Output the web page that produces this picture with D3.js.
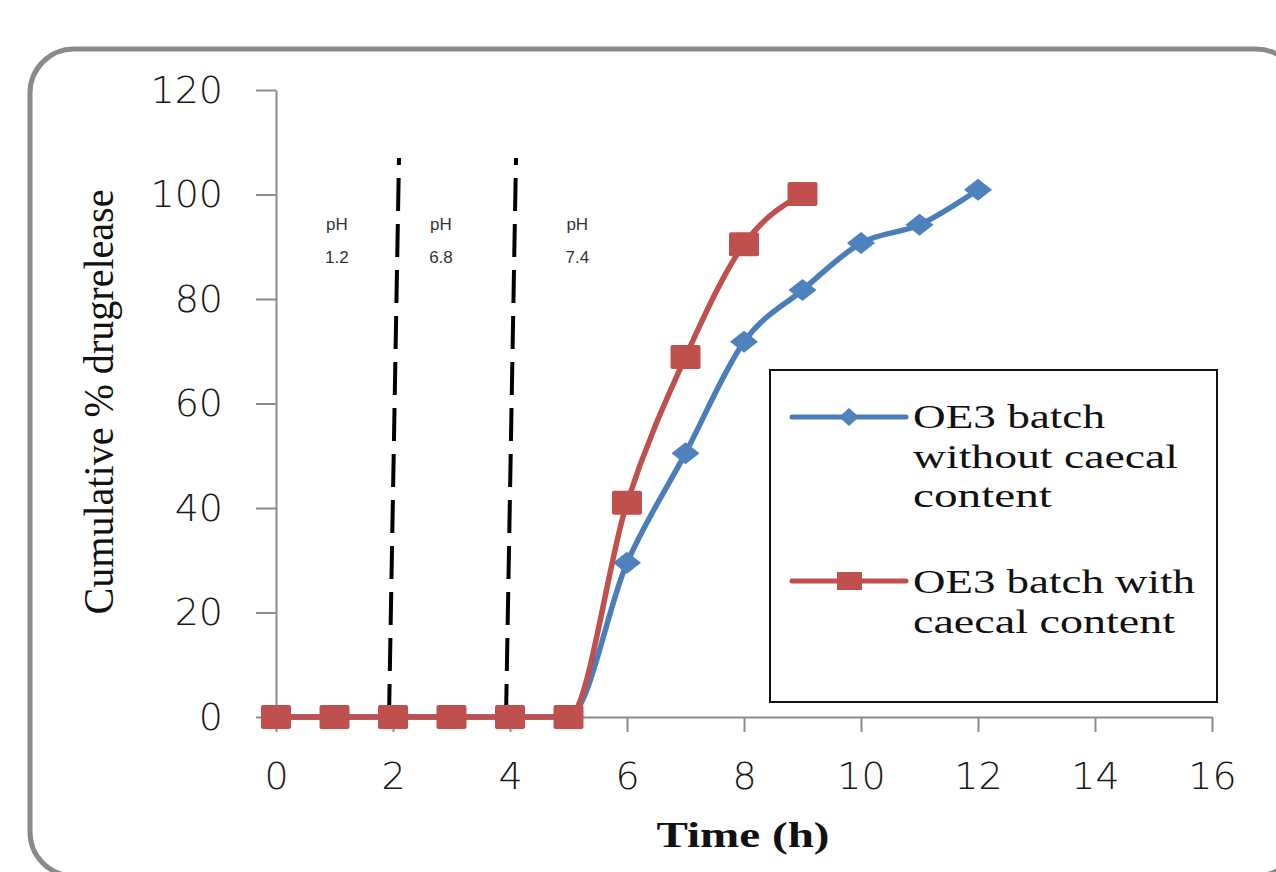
<!DOCTYPE html>
<html>
<head>
<meta charset="utf-8">
<script src="https://cdn.jsdelivr.net/npm/d3@7"></script>
<style>
  html, body { margin: 0; padding: 0; background: #fff; }
  svg { display: block; }
</style>
</head>
<body>
<div id="chart"></div>
<script>
// chart values
const timeWithout = [0, 1, 2, 3, 4, 5, 6, 7, 8, 9, 10, 11, 12];
const releaseWithout = [0, 0, 0, 0, 0, 0, 29.5, 50.5, 71.8, 81.7, 90.7, 94.2, 100.9];
const timeWith = [0, 1, 2, 3, 4, 5, 6, 7, 8, 9];
const releaseWith = [0, 0, 0, 0, 0, 0, 41, 68.9, 90.5, 100.1];

const xTicks = [0, 2, 4, 6, 8, 10, 12, 14, 16];
const yTicks = [0, 20, 40, 60, 80, 100, 120];

// pH zones: boundaries (h) and the labels written in each zone
const phBoundaries = [2, 4];
const phBoundaryTop = 107;
const phValues = ["1.2", "6.8", "7.4"];
const phLabelTime = [1.04, 2.82, 5.15];

const legendWithout = ["OE3 batch", "without caecal", "content"];
const legendWith = ["OE3 batch with", "caecal content"];

const width = 1276, height = 872;
const blue = "#4F81BD", blueLine = "#4A7EBB", red = "#C0504D";

const svg = d3.select("#chart")
              .append("svg")
              .attr("width", width)
              .attr("height", height);

// rounded frame round the whole chart
svg.append("rect")
   .attr("x", 30).attr("y", 49)
   .attr("width", 1270).attr("height", 827)
   .attr("rx", 44).attr("ry", 44)
   .attr("fill", "none")
   .attr("stroke", "#8a8a8a")
   .attr("stroke-width", 5);

const x = d3.scaleLinear().domain([0, 16]).range([276, 1212]);
const y = d3.scaleLinear().domain([0, 120]).range([717, 90]);

// axes
const yAxis = svg.append("g")
                 .attr("transform", `translate(${x(0)},0)`)
                 .call(d3.axisLeft(y).tickValues(yTicks).tickSize(20).tickSizeOuter(0).tickPadding(33));

const xAxis = svg.append("g")
                 .attr("transform", `translate(0,${y(0)})`)
                 .call(d3.axisBottom(x).tickValues(xTicks).tickSize(15).tickSizeOuter(0).tickPadding(30));

[yAxis, xAxis].forEach(g => {
    g.select(".domain").attr("stroke", "#8c8c8c").attr("stroke-width", 2);
    g.selectAll(".tick line").attr("stroke", "#8c8c8c").attr("stroke-width", 2);
    g.selectAll(".tick text")
     .attr("fill", "#1a1a1a")
     .style("font-family", "'DejaVu Sans', Verdana, sans-serif")
     .style("font-weight", "300")
     .style("font-size", "38px");
});

// axis titles
svg.append("text")
   .attr("transform", `translate(113,402) rotate(-90)`)
   .attr("text-anchor", "middle")
   .attr("textLength", 425)
   .attr("lengthAdjust", "spacingAndGlyphs")
   .style("font-family", "'Liberation Serif', 'Times New Roman', serif")
   .style("font-size", "42px")
   .attr("fill", "#111")
   .text("Cumulative % drugrelease");

svg.append("text")
   .attr("x", 743).attr("y", 847)
   .attr("text-anchor", "middle")
   .attr("textLength", 173)
   .attr("lengthAdjust", "spacingAndGlyphs")
   .style("font-family", "'Liberation Serif', 'Times New Roman', serif")
   .style("font-size", "36px")
   .style("font-weight", "bold")
   .attr("fill", "#111")
   .text("Time (h)");

// dashed pH boundaries (slightly leaning, as in the picture)
svg.selectAll(".boundary")
   .data(phBoundaries)
   .enter()
   .append("line")
   .attr("class", "boundary")
   .attr("x1", d => x(d) - 4)
   .attr("y1", y(0))
   .attr("x2", d => x(d) + 6)
   .attr("y2", y(phBoundaryTop))
   .attr("stroke", "#000")
   .attr("stroke-width", 4)
   .attr("stroke-dasharray", "33,13");

// pH zone labels
const phGroup = svg.selectAll(".ph")
                   .data(phValues)
                   .enter()
                   .append("g")
                   .attr("class", "ph")
                   .attr("transform", (d, i) => `translate(${x(phLabelTime[i])},0)`);

phGroup.append("text")
       .attr("y", y(93.2))
       .attr("text-anchor", "middle")
       .text("pH");

phGroup.append("text")
       .attr("y", y(86.9))
       .attr("text-anchor", "middle")
       .text(d => d);

phGroup.selectAll("text")
       .attr("fill", "#333")
       .style("font-family", "'Liberation Sans Narrow', 'Liberation Sans', Arial, sans-serif")
       .style("font-size", "17px");

// series
const lineGen = d3.line()
                  .x(d => x(d[0]))
                  .y(d => y(d[1]))
                  .curve(d3.curveMonotoneX);

const seriesWithout = timeWithout.map((t, i) => [t, releaseWithout[i]]);
const seriesWith = timeWith.map((t, i) => [t, releaseWith[i]]);

svg.append("path")
   .datum(seriesWithout)
   .attr("d", lineGen)
   .attr("fill", "none")
   .attr("stroke", blueLine)
   .attr("stroke-width", 5.5)
   .attr("stroke-linejoin", "round");

const diamond = (w, h) => `M0,${-h / 2}L${w / 2},0L0,${h / 2}L${-w / 2},0Z`;

svg.selectAll(".diamond")
   .data(seriesWithout)
   .enter()
   .append("path")
   .attr("class", "diamond")
   .attr("d", diamond(28, 22))
   .attr("transform", d => `translate(${x(d[0])},${y(d[1])})`)
   .attr("fill", blue);

svg.append("path")
   .datum(seriesWith)
   .attr("d", lineGen)
   .attr("fill", "none")
   .attr("stroke", red)
   .attr("stroke-width", 5.5)
   .attr("stroke-linejoin", "round");

svg.selectAll(".square")
   .data(seriesWith)
   .enter()
   .append("rect")
   .attr("class", "square")
   .attr("x", d => x(d[0]) - 15)
   .attr("y", d => y(d[1]) - 12)
   .attr("width", 30)
   .attr("height", 24)
   .attr("rx", 2)
   .attr("fill", red);

// legend
const legend = svg.append("g");
legend.append("rect")
      .attr("x", 770).attr("y", 370)
      .attr("width", 447).attr("height", 332)
      .attr("fill", "#fff")
      .attr("stroke", "#111")
      .attr("stroke-width", 2);

const legendItems = [
    { lines: legendWithout, lens: [192, 265, 139], color: blueLine, fill: blue, marker: "diamond", ly: 417, ty: 428 },
    { lines: legendWith, lens: [282, 262], color: red, fill: red, marker: "square", ly: 581, ty: 593 }
];

legendItems.forEach(item => {
    legend.append("line")
          .attr("x1", 792).attr("x2", 906)
          .attr("y1", item.ly).attr("y2", item.ly)
          .attr("stroke", item.color)
          .attr("stroke-width", 5)
          .attr("stroke-linecap", "round");
    if (item.marker === "diamond") {
        legend.append("path")
              .attr("d", diamond(20, 18))
              .attr("transform", `translate(849,${item.ly})`)
              .attr("fill", item.fill);
    } else {
        legend.append("rect")
              .attr("x", 837).attr("y", item.ly - 9)
              .attr("width", 25).attr("height", 18)
              .attr("fill", item.fill);
    }
    legend.selectAll(null)
          .data(item.lines)
          .enter()
          .append("text")
          .attr("x", 913)
          .attr("y", (d, i) => item.ty + i * 39.5)
          .attr("textLength", (d, i) => item.lens[i])
          .attr("lengthAdjust", "spacingAndGlyphs")
          .style("font-family", "'Liberation Serif', 'Times New Roman', serif")
          .style("font-size", "34px")
          .attr("fill", "#111")
          .text(d => d);
});
</script>
</body>
</html>
